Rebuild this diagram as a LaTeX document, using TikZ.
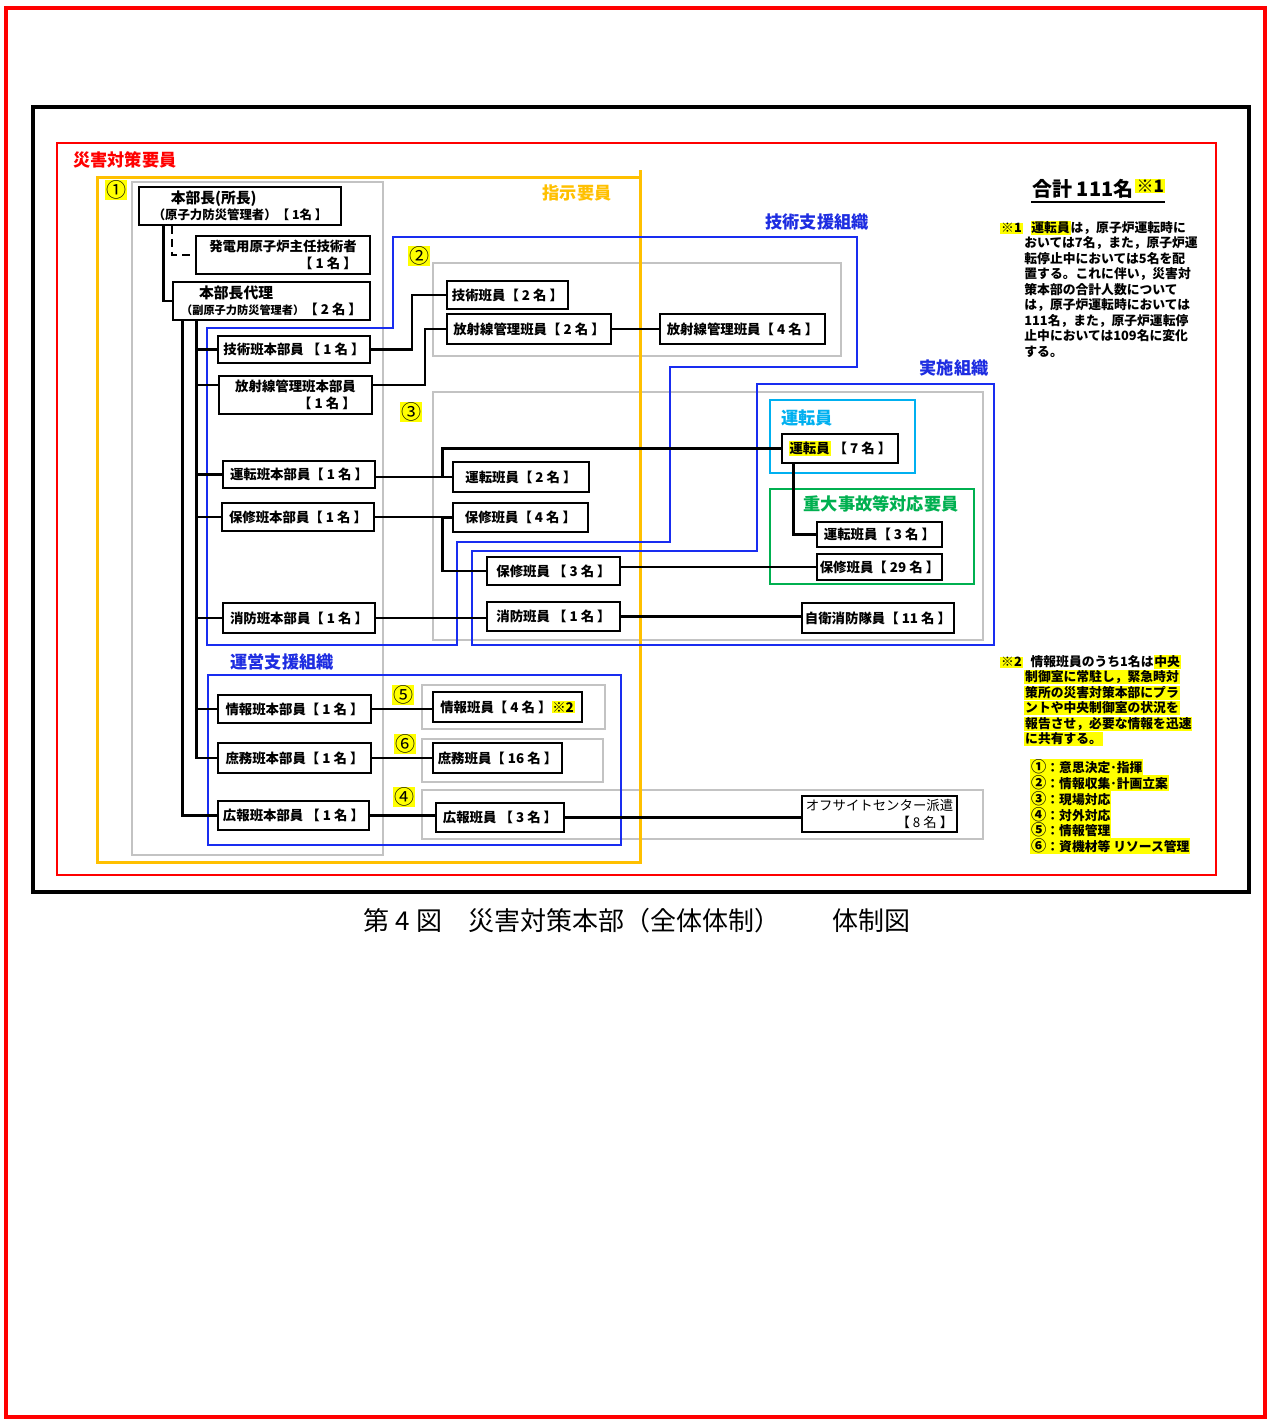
\documentclass[tikz,border=0pt]{standalone}
\usepackage{fontspec}
\setmainfont{Noto Sans CJK JP}
\usetikzlibrary{calc}
\definecolor{cRed}{RGB}{255,0,0}
\definecolor{cOrange}{RGB}{255,192,0}
\definecolor{cBlue}{RGB}{25,45,240}
\definecolor{cBlueTxt}{RGB}{30,45,225}
\definecolor{cCyan}{RGB}{0,176,240}
\definecolor{cGreen}{RGB}{0,176,80}
\definecolor{cGray}{RGB}{195,195,195}
\definecolor{cHl}{RGB}{255,255,0}
\newcommand\hl[1]{{\setlength{\fboxsep}{0.4pt}\colorbox{cHl}{#1}}}
\newcommand\mkbox[7][]{\node[bx,#1, minimum width={(#5-#3)*0.5pt}, minimum height={(#6-#4)*0.5pt}] (#2) at ({(#3+#5)/2},{(#4+#6)/2}) {#7};}
\tikzset{
  bx/.style={draw=black, line width=0.9pt, fill=white, inner sep=1pt, font=\bfseries\fontsize{6.7}{8.2}\selectfont},
  conn/.style={line width=1.4pt, black},
  dconn/.style={line width=1.2pt, dash pattern=on 4pt off 2.5pt},
  gbox/.style={draw=cGray, line width=1pt},
  blu/.style={draw=cBlue, line width=0.8pt, line join=miter},
  lbl/.style={font=\bfseries\fontsize{8.6}{10}\selectfont, inner sep=0pt},
  circ/.style={fill=cHl, inner sep=0.3pt, font=\fontsize{10}{11}\selectfont},
  note/.style={anchor=west, inner sep=0pt, font=\bfseries\fontsize{6.4}{7.5}\selectfont},
}
\begin{document}
\begin{tikzpicture}[x=0.5pt,y=-0.5pt]
\useasboundingbox (0,0) rectangle (1268,1420);
\fill[white] (0,0) rectangle (1268,1420);
% page borders
\draw[cRed, line width=2.2pt] (6,8) rectangle (1265,1417);
\draw[black, line width=2pt] (33,107) rectangle (1249,892);
\draw[cRed, line width=1pt] (57,143) rectangle (1216,875);
% gray group boxes
\draw[gbox] (132,182) rectangle (383,855);
\draw[gbox] (433,263) rectangle (841,356);
\draw[gbox] (433,392) rectangle (983,640);
\draw[gbox] (422,685) rectangle (605,729);
\draw[gbox] (422,739) rectangle (603,782);
\draw[gbox] (422,790) rectangle (983,839);
% orange box
\draw[cOrange, line width=1.5pt] (97,177) rectangle (640,862);
\draw[cOrange, line width=1.5pt] (640,170) -- (640,177);
% blue organisation outlines
\draw[blu] (207,328) -- (393,328) -- (393,237) -- (857,237) -- (857,367) -- (670,367) -- (670,542) -- (457,542) -- (457,645) -- (207,645) -- cycle;
\draw[blu] (472,551) -- (757,551) -- (757,384) -- (994,384) -- (994,645) -- (472,645) -- cycle;
\draw[blu] (208,675) rectangle (621,845);
% cyan and green boxes
\draw[cCyan, line width=1.3pt] (770,400) rectangle (915,473);
\draw[cGreen, line width=1.3pt] (770,489) rectangle (974,584);
% labels
\node[lbl, text=cRed] (lblsaigai) at (125,160) {災害対策要員};
\node[lbl, text=cOrange] (lblshiji) at (577,193) {指示要員};
\node[lbl, text=cBlueTxt] (lblgijutsu) at (817,222) {技術支援組織};
\node[lbl, text=cBlueTxt] (lbljisshi) at (954,368) {実施組織};
\node[lbl, text=cBlueTxt] (lblunei) at (282,662) {運営支援組織};
\node[lbl, text=cCyan] (lbluntenin) at (807,418) {運転員};
\node[lbl, text=cGreen] (lbljudai) at (881,504) {重大事故等対応要員};
% circled numbers
\node[circ] (c1) at (116,190) {①};
\node[circ] (c2) at (419,256) {②};
\node[circ] (c3) at (411,412) {③};
\node[circ] (c5) at (403,695) {⑤};
\node[circ] (c6) at (405,744) {⑥};
\node[circ] (c4) at (404,797) {④};
% boxes
\mkbox[align=left]{honbucho}{139}{187}{341}{225}{\hspace*{9pt}{\fontsize{7.4}{9}\selectfont 本部長(所長)}\\{\fontsize{6.2}{8}\selectfont（原子力防災管理者）【 1名 】}}
\mkbox[align=right]{hatsuden}{196}{236}{370}{274}{発電用原子炉主任技術者\\【 1 名 】}
\mkbox[align=left]{dairi}{173}{282}{370}{320}{\hspace*{9pt}{\fontsize{7.4}{9}\selectfont 本部長代理}\\{\fontsize{5.6}{7}\selectfont（副原子力防災管理者）}【 2 名 】}
\mkbox{gijutsuhq}{218}{336}{370}{363}{技術班本部員 【 1 名 】}
\mkbox[align=right]{hoshahq}{219}{376}{372}{414}{放射線管理班本部員\\【 1 名 】}
\mkbox{untenhq}{223}{461}{375}{488}{運転班本部員【 1 名 】}
\mkbox{hoshuhq}{222}{503}{374}{531}{保修班本部員【 1 名 】}
\mkbox{shobohq}{223}{603}{375}{633}{消防班本部員【 1 名 】}
\mkbox{johohq}{218}{695}{371}{723}{情報班本部員【 1 名 】}
\mkbox{shomuhq}{218}{743}{371}{773}{庶務班本部員【 1 名 】}
\mkbox{kouhouhq}{218}{801}{369}{830}{広報班本部員 【 1 名 】}
\mkbox{gijutsu}{447}{281}{568}{309}{技術班員【 2 名 】}
\mkbox{hosha2}{447}{314}{611}{344}{放射線管理班員【 2 名 】}
\mkbox{hosha4}{660}{314}{825}{344}{放射線管理班員【 4 名 】}
\mkbox{unten}{453}{462}{589}{492}{運転班員【 2 名 】}
\mkbox{hoshu4}{453}{503}{588}{532}{保修班員【 4 名 】}
\mkbox{hoshu3}{487}{557}{620}{585}{保修班員 【 3 名 】}
\mkbox{shobo}{487}{602}{620}{631}{消防班員 【 1 名 】}
\mkbox{untenin}{782}{434}{898}{463}{\hl{運転員} 【 7 名 】}
\mkbox{unten3}{817}{522}{942}{547}{運転班員【 3 名 】}
\mkbox{hoshu29}{817}{554}{942}{580}{保修班員【 29 名 】}
\mkbox{jiei}{802}{603}{954}{633}{自衛消防隊員【 11 名 】}
\mkbox{joho}{433}{692}{582}{722}{情報班員【 4 名 】\hl{※2}}
\mkbox{shomu}{433}{743}{562}{773}{庶務班員【 16 名 】}
\mkbox{kouhou}{436}{803}{564}{832}{広報班員 【 3 名 】}
\mkbox[align=right, font=\fontsize{6.7}{8.2}\selectfont]{offsite}{802}{796}{957}{832}{オフサイトセンター派遣\\【 8 名 】}
% connectors
\draw[conn] (honbucho.south west) ++(25,0) |- (dairi.west);
\draw[dconn] (honbucho.south west) ++(34,0) |- (hatsuden.west);
\draw[conn] (dairi.south west) ++(10,0) |- (kouhouhq.west);
\foreach \t in {gijutsuhq,untenhq,hoshuhq,shobohq,johohq,shomuhq}
  \draw[conn] (dairi.south west) ++(24,0) |- (\t.west);
\draw[conn] (dairi.south west) ++(24,0) |- ([yshift=5pt]hoshahq.west);
\draw[conn] (gijutsuhq.east) -- ++(41,0) |- (gijutsu.west);
\draw[conn] ([yshift=5pt]hoshahq.east) -- ++(52,0) |- (hosha2.west);
\draw[conn] (hosha2.east) -- (hosha4.west);
\draw[conn] (untenhq.east |- unten.west) -- (unten.west);
\draw[conn] (unten.west) -- ++(-10,0) |- (untenin.west);
\draw[conn] (hoshuhq.east) -- (hoshuhq.east -| hoshu4.west);
\draw[conn] (hoshu4.west) -- ++(-10,0) |- (hoshu3.west);
\draw[conn] (hoshu3.east |- hoshu29.west) -- (hoshu29.west);
\draw[conn] (untenin.south west) ++(12,0) |- (unten3.west);
\draw[conn] (shobohq.east) -- (shobohq.east -| shobo.west);
\draw[conn] (shobo.east) -- (shobo.east -| jiei.west);
\draw[conn] (johohq.east) -- (johohq.east -| joho.west);
\draw[conn] (shomuhq.east) -- (shomuhq.east -| shomu.west);
\draw[conn] (kouhouhq.east) -- (kouhouhq.east -| kouhou.west);
\draw[conn] (kouhou.east) -- (kouhou.east -| offsite.west);
% total
\node[anchor=west, inner sep=0.5pt, font=\bfseries\fontsize{10}{12}\selectfont] (total) at (1031,189) {合計 111名};
\node[anchor=west, fill=cHl, inner sep=0.6pt, font=\bfseries\fontsize{8.5}{9}\selectfont] (totsup) at (total.east |- 0,186) {※1};
\draw[line width=0.9pt] ([yshift=-1pt]total.south west) -- ([yshift=-1pt]total.south west -| totsup.east);
% note 1
\node[note] (na) at (1000,228) {\hl{※1}\hspace{4pt}\hl{運転員}は，原子炉運転時に};
\node[note] (nb) at (1024,243) {おいては7名，また，原子炉運};
\node[note] (nc) at (1024,259) {転停止中においては5名を配};
\node[note] (nd) at (1024,274) {置する。これに伴い，災害対};
\node[note] (ne) at (1024,290) {策本部の合計人数について};
\node[note] (nf) at (1024,305) {は，原子炉運転時においては};
\node[note] (ng) at (1024,321) {111名，また，原子炉運転停};
\node[note] (nh) at (1024,336) {止中においては109名に変化};
\node[note] (ni) at (1024,352) {する。};
% note 2
\node[note] (ma) at (1000,662) {\hl{※2}\hspace{4pt}情報班員のうち1名は\hl{中央}};
\node[note] (mb) at (1024,677) {\hl{制御室に常駐し，緊急時対}};
\node[note] (mc) at (1024,693) {\hl{策所の災害対策本部にプラ}};
\node[note] (md) at (1024,708) {\hl{ントや中央制御室の状況を}};
\node[note] (me) at (1024,724) {\hl{報告させ，必要な情報を迅速}};
\node[note] (mf) at (1024,739) {\hl{に共有する。}};
% legend
\node[note] (la) at (1030,767) {\hl{{\fontsize{7.6}{7.5}\selectfont ①}：意思決定･指揮}};
\node[note] (lb) at (1030,783) {\hl{{\fontsize{7.6}{7.5}\selectfont ②}：情報収集･計画立案}};
\node[note] (lc) at (1030,799) {\hl{{\fontsize{7.6}{7.5}\selectfont ③}：現場対応}};
\node[note] (ld) at (1030,815) {\hl{{\fontsize{7.6}{7.5}\selectfont ④}：対外対応}};
\node[note] (le) at (1030,830) {\hl{{\fontsize{7.6}{7.5}\selectfont ⑤}：情報管理}};
\node[note] (lf) at (1030,846) {\hl{{\fontsize{7.6}{7.5}\selectfont ⑥}：資機材等 リソース管理}};
% caption
\node[inner sep=0pt, font=\fontsize{13}{15}\selectfont] (caption) at (637,921) {第 4 図　災害対策本部（全体体制）　　体制図};
\end{tikzpicture}
\end{document}
